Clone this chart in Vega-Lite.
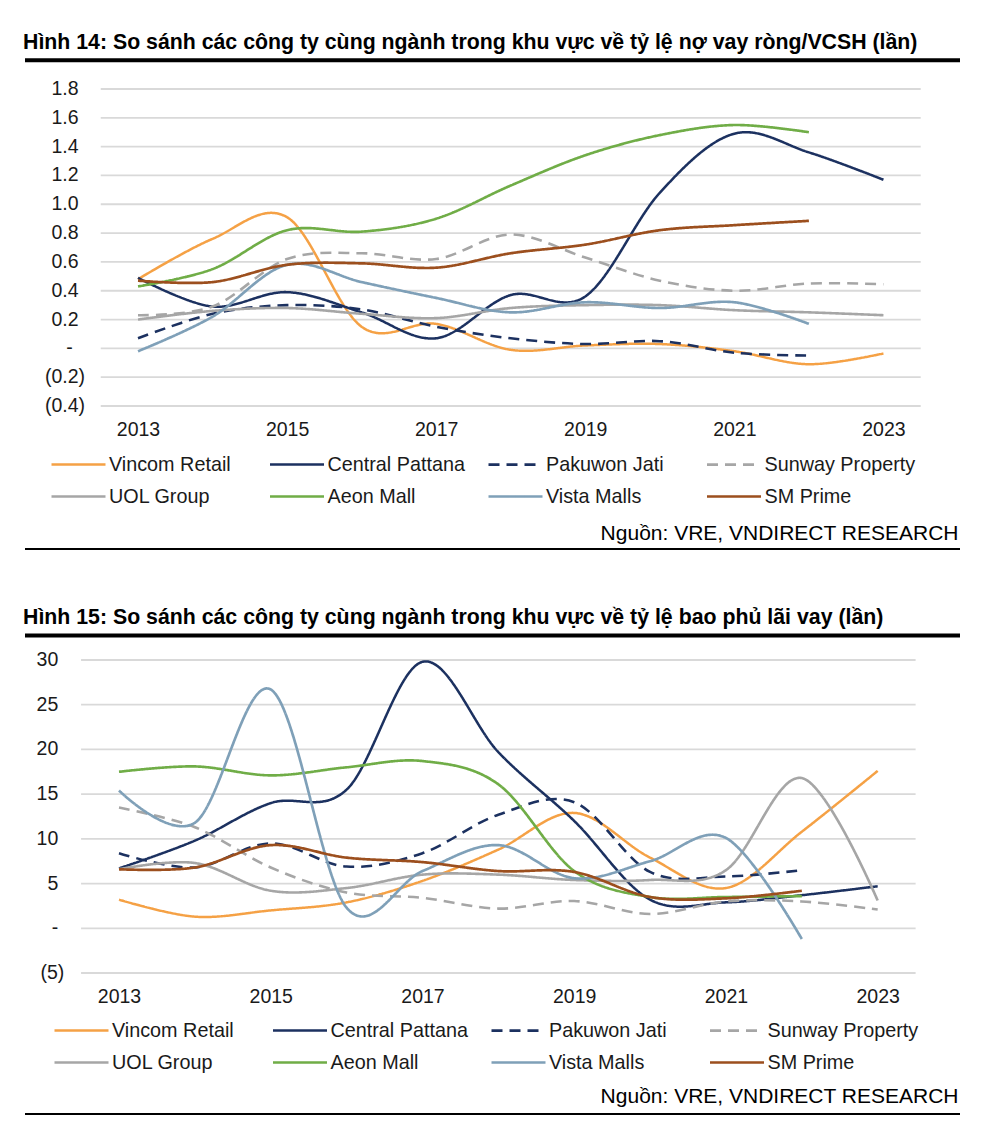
{
  "$schema": "https://vega.github.io/schema/vega-lite/v6.json",
  "padding": {"left": 23, "top": 31, "right": 0, "bottom": 0},
  "background": "white",
  "spacing": 57,
  "resolve": {
    "scale": {"color": "independent", "strokeDash": "independent", "strokeWidth": "independent"},
    "legend": {"color": "independent", "strokeDash": "independent"}
  },
  "config": {
    "view": {"stroke": null},
    "font": "Liberation Sans",
    "axis": {"labelFont": "Liberation Sans", "labelFontSize": 19.5, "labelColor": "#1a1a1a", "domain": false, "ticks": false, "tickSize": 0, "grid": false, "titleFont": "Liberation Sans"},
    "text": {"font": "Liberation Sans", "fontSize": 19.5, "color": "#1a1a1a", "align": "right", "baseline": "middle"},
    "legend": {"labelFont": "Liberation Sans", "labelFontSize": 19.8, "labelColor": "#1a1a1a", "symbolType": "stroke", "symbolSize": 2916, "symbolStrokeWidth": 3, "labelOffset": 2, "columns": 4, "direction": "horizontal", "gridAlign": "all", "columnPadding": 4.5, "rowPadding": 12, "padding": 0, "labelLimit": 300},
    "title": {"font": "Liberation Sans", "fontSize": 21.3, "fontWeight": "bold", "anchor": "start", "color": "#000000", "offset": 5}
  },
  "datasets": {
    "d1": [
      {"s": "Vincom Retail", "year": 2013, "v": 0.48}, {"s": "Vincom Retail", "year": 2014, "v": 0.76}, {"s": "Vincom Retail", "year": 2015, "v": 0.91}, {"s": "Vincom Retail", "year": 2016, "v": 0.15}, {"s": "Vincom Retail", "year": 2017, "v": 0.17}, {"s": "Vincom Retail", "year": 2018, "v": -0.01}, {"s": "Vincom Retail", "year": 2019, "v": 0.02}, {"s": "Vincom Retail", "year": 2020, "v": 0.03}, {"s": "Vincom Retail", "year": 2021, "v": -0.02}, {"s": "Vincom Retail", "year": 2022, "v": -0.11}, {"s": "Vincom Retail", "year": 2023, "v": -0.035},
      {"s": "Central Pattana", "year": 2013, "v": 0.49}, {"s": "Central Pattana", "year": 2014, "v": 0.29}, {"s": "Central Pattana", "year": 2015, "v": 0.39}, {"s": "Central Pattana", "year": 2016, "v": 0.25}, {"s": "Central Pattana", "year": 2017, "v": 0.07}, {"s": "Central Pattana", "year": 2018, "v": 0.37}, {"s": "Central Pattana", "year": 2019, "v": 0.36}, {"s": "Central Pattana", "year": 2020, "v": 1.08}, {"s": "Central Pattana", "year": 2021, "v": 1.49}, {"s": "Central Pattana", "year": 2022, "v": 1.36}, {"s": "Central Pattana", "year": 2023, "v": 1.17},
      {"s": "Pakuwon Jati", "year": 2013, "v": 0.07}, {"s": "Pakuwon Jati", "year": 2014, "v": 0.24}, {"s": "Pakuwon Jati", "year": 2015, "v": 0.3}, {"s": "Pakuwon Jati", "year": 2016, "v": 0.27}, {"s": "Pakuwon Jati", "year": 2017, "v": 0.15}, {"s": "Pakuwon Jati", "year": 2018, "v": 0.07}, {"s": "Pakuwon Jati", "year": 2019, "v": 0.03}, {"s": "Pakuwon Jati", "year": 2020, "v": 0.05}, {"s": "Pakuwon Jati", "year": 2021, "v": -0.03}, {"s": "Pakuwon Jati", "year": 2022, "v": -0.05},
      {"s": "Sunway Property", "year": 2013, "v": 0.23}, {"s": "Sunway Property", "year": 2014, "v": 0.29}, {"s": "Sunway Property", "year": 2015, "v": 0.62}, {"s": "Sunway Property", "year": 2016, "v": 0.66}, {"s": "Sunway Property", "year": 2017, "v": 0.62}, {"s": "Sunway Property", "year": 2018, "v": 0.79}, {"s": "Sunway Property", "year": 2019, "v": 0.63}, {"s": "Sunway Property", "year": 2020, "v": 0.47}, {"s": "Sunway Property", "year": 2021, "v": 0.4}, {"s": "Sunway Property", "year": 2022, "v": 0.45}, {"s": "Sunway Property", "year": 2023, "v": 0.445},
      {"s": "UOL Group", "year": 2013, "v": 0.2}, {"s": "UOL Group", "year": 2014, "v": 0.26}, {"s": "UOL Group", "year": 2015, "v": 0.28}, {"s": "UOL Group", "year": 2016, "v": 0.24}, {"s": "UOL Group", "year": 2017, "v": 0.21}, {"s": "UOL Group", "year": 2018, "v": 0.28}, {"s": "UOL Group", "year": 2019, "v": 0.3}, {"s": "UOL Group", "year": 2020, "v": 0.3}, {"s": "UOL Group", "year": 2021, "v": 0.265}, {"s": "UOL Group", "year": 2022, "v": 0.25}, {"s": "UOL Group", "year": 2023, "v": 0.23},
      {"s": "Aeon Mall", "year": 2013, "v": 0.43}, {"s": "Aeon Mall", "year": 2014, "v": 0.55}, {"s": "Aeon Mall", "year": 2015, "v": 0.82}, {"s": "Aeon Mall", "year": 2016, "v": 0.81}, {"s": "Aeon Mall", "year": 2017, "v": 0.9}, {"s": "Aeon Mall", "year": 2018, "v": 1.13}, {"s": "Aeon Mall", "year": 2019, "v": 1.34}, {"s": "Aeon Mall", "year": 2020, "v": 1.48}, {"s": "Aeon Mall", "year": 2021, "v": 1.55}, {"s": "Aeon Mall", "year": 2022, "v": 1.5},
      {"s": "Vista Malls", "year": 2013, "v": -0.02}, {"s": "Vista Malls", "year": 2014, "v": 0.22}, {"s": "Vista Malls", "year": 2015, "v": 0.58}, {"s": "Vista Malls", "year": 2016, "v": 0.46}, {"s": "Vista Malls", "year": 2017, "v": 0.35}, {"s": "Vista Malls", "year": 2018, "v": 0.25}, {"s": "Vista Malls", "year": 2019, "v": 0.32}, {"s": "Vista Malls", "year": 2020, "v": 0.28}, {"s": "Vista Malls", "year": 2021, "v": 0.32}, {"s": "Vista Malls", "year": 2022, "v": 0.17},
      {"s": "SM Prime", "year": 2013, "v": 0.47}, {"s": "SM Prime", "year": 2014, "v": 0.46}, {"s": "SM Prime", "year": 2015, "v": 0.58}, {"s": "SM Prime", "year": 2016, "v": 0.59}, {"s": "SM Prime", "year": 2017, "v": 0.56}, {"s": "SM Prime", "year": 2018, "v": 0.66}, {"s": "SM Prime", "year": 2019, "v": 0.72}, {"s": "SM Prime", "year": 2020, "v": 0.82}, {"s": "SM Prime", "year": 2021, "v": 0.855}, {"s": "SM Prime", "year": 2022, "v": 0.885}
    ],
    "d2": [
      {"s": "Vincom Retail", "year": 2013, "v": 3.2}, {"s": "Vincom Retail", "year": 2014, "v": 1.3}, {"s": "Vincom Retail", "year": 2015, "v": 2.0}, {"s": "Vincom Retail", "year": 2016, "v": 2.9}, {"s": "Vincom Retail", "year": 2017, "v": 5.3}, {"s": "Vincom Retail", "year": 2018, "v": 8.8}, {"s": "Vincom Retail", "year": 2019, "v": 12.9}, {"s": "Vincom Retail", "year": 2020, "v": 7.9}, {"s": "Vincom Retail", "year": 2021, "v": 4.5}, {"s": "Vincom Retail", "year": 2022, "v": 10.8}, {"s": "Vincom Retail", "year": 2023, "v": 17.6},
      {"s": "Central Pattana", "year": 2013, "v": 6.7}, {"s": "Central Pattana", "year": 2014, "v": 9.8}, {"s": "Central Pattana", "year": 2015, "v": 14.0}, {"s": "Central Pattana", "year": 2016, "v": 15.5}, {"s": "Central Pattana", "year": 2017, "v": 29.8}, {"s": "Central Pattana", "year": 2018, "v": 19.7}, {"s": "Central Pattana", "year": 2019, "v": 12.0}, {"s": "Central Pattana", "year": 2020, "v": 3.2}, {"s": "Central Pattana", "year": 2021, "v": 2.9}, {"s": "Central Pattana", "year": 2022, "v": 3.7}, {"s": "Central Pattana", "year": 2023, "v": 4.7},
      {"s": "Pakuwon Jati", "year": 2013, "v": 8.4}, {"s": "Pakuwon Jati", "year": 2014, "v": 6.8}, {"s": "Pakuwon Jati", "year": 2015, "v": 9.5}, {"s": "Pakuwon Jati", "year": 2016, "v": 6.9}, {"s": "Pakuwon Jati", "year": 2017, "v": 8.4}, {"s": "Pakuwon Jati", "year": 2018, "v": 12.7}, {"s": "Pakuwon Jati", "year": 2019, "v": 14.1}, {"s": "Pakuwon Jati", "year": 2020, "v": 6.3}, {"s": "Pakuwon Jati", "year": 2021, "v": 5.8}, {"s": "Pakuwon Jati", "year": 2022, "v": 6.5},
      {"s": "Sunway Property", "year": 2013, "v": 13.5}, {"s": "Sunway Property", "year": 2014, "v": 11.3}, {"s": "Sunway Property", "year": 2015, "v": 6.8}, {"s": "Sunway Property", "year": 2016, "v": 4.0}, {"s": "Sunway Property", "year": 2017, "v": 3.4}, {"s": "Sunway Property", "year": 2018, "v": 2.2}, {"s": "Sunway Property", "year": 2019, "v": 3.05}, {"s": "Sunway Property", "year": 2020, "v": 1.6}, {"s": "Sunway Property", "year": 2021, "v": 3.0}, {"s": "Sunway Property", "year": 2022, "v": 3.0}, {"s": "Sunway Property", "year": 2023, "v": 2.1},
      {"s": "UOL Group", "year": 2013, "v": 6.6}, {"s": "UOL Group", "year": 2014, "v": 7.3}, {"s": "UOL Group", "year": 2015, "v": 4.2}, {"s": "UOL Group", "year": 2016, "v": 4.5}, {"s": "UOL Group", "year": 2017, "v": 6.0}, {"s": "UOL Group", "year": 2018, "v": 6.0}, {"s": "UOL Group", "year": 2019, "v": 5.4}, {"s": "UOL Group", "year": 2020, "v": 5.4}, {"s": "UOL Group", "year": 2021, "v": 6.5}, {"s": "UOL Group", "year": 2022, "v": 16.8}, {"s": "UOL Group", "year": 2023, "v": 3.1},
      {"s": "Aeon Mall", "year": 2013, "v": 17.5}, {"s": "Aeon Mall", "year": 2014, "v": 18.1}, {"s": "Aeon Mall", "year": 2015, "v": 17.1}, {"s": "Aeon Mall", "year": 2016, "v": 18.0}, {"s": "Aeon Mall", "year": 2017, "v": 18.7}, {"s": "Aeon Mall", "year": 2018, "v": 16.1}, {"s": "Aeon Mall", "year": 2019, "v": 6.4}, {"s": "Aeon Mall", "year": 2020, "v": 3.5}, {"s": "Aeon Mall", "year": 2021, "v": 3.5}, {"s": "Aeon Mall", "year": 2022, "v": 3.6},
      {"s": "Vista Malls", "year": 2013, "v": 15.4}, {"s": "Vista Malls", "year": 2014, "v": 11.8}, {"s": "Vista Malls", "year": 2015, "v": 26.7}, {"s": "Vista Malls", "year": 2016, "v": 2.3}, {"s": "Vista Malls", "year": 2017, "v": 6.4}, {"s": "Vista Malls", "year": 2018, "v": 9.3}, {"s": "Vista Malls", "year": 2019, "v": 5.6}, {"s": "Vista Malls", "year": 2020, "v": 7.5}, {"s": "Vista Malls", "year": 2021, "v": 10.1}, {"s": "Vista Malls", "year": 2022, "v": -1.2},
      {"s": "SM Prime", "year": 2013, "v": 6.6}, {"s": "SM Prime", "year": 2014, "v": 6.8}, {"s": "SM Prime", "year": 2015, "v": 9.3}, {"s": "SM Prime", "year": 2016, "v": 7.9}, {"s": "SM Prime", "year": 2017, "v": 7.4}, {"s": "SM Prime", "year": 2018, "v": 6.4}, {"s": "SM Prime", "year": 2019, "v": 6.3}, {"s": "SM Prime", "year": 2020, "v": 3.5}, {"s": "SM Prime", "year": 2021, "v": 3.35}, {"s": "SM Prime", "year": 2022, "v": 4.2}
    ],
    "g1": [{"g": -0.4}, {"g": -0.2}, {"g": 0}, {"g": 0.2}, {"g": 0.4}, {"g": 0.6}, {"g": 0.8}, {"g": 1.0}, {"g": 1.2}, {"g": 1.4}, {"g": 1.6}, {"g": 1.8}],
    "g2": [{"g": -5}, {"g": 0}, {"g": 5}, {"g": 10}, {"g": 15}, {"g": 20}, {"g": 25}, {"g": 30}],
    "l1pos": [{"g": 0.2, "lab": "0.2"}, {"g": 0.4, "lab": "0.4"}, {"g": 0.6, "lab": "0.6"}, {"g": 0.8, "lab": "0.8"}, {"g": 1.0, "lab": "1.0"}, {"g": 1.2, "lab": "1.2"}, {"g": 1.4, "lab": "1.4"}, {"g": 1.6, "lab": "1.6"}, {"g": 1.8, "lab": "1.8"}],
    "l1neg": [{"g": -0.4, "lab": "(0.4)"}, {"g": -0.2, "lab": "(0.2)"}],
    "l1zero": [{"g": 0, "lab": "-"}],
    "l2pos": [{"g": 0, "lab": "-"}, {"g": 5, "lab": "5"}, {"g": 10, "lab": "10"}, {"g": 15, "lab": "15"}, {"g": 20, "lab": "20"}, {"g": 25, "lab": "25"}, {"g": 30, "lab": "30"}],
    "l2neg": [{"g": -5, "lab": "(5)"}]
  },
  "vconcat": [
    {
      "width": 935,
      "height": 317,
      "title": {"text": "Hình 14: So sánh các công ty cùng ngành trong khu vực về tỷ lệ nợ vay ròng/VCSH (lần)"},
      "layer": [
        {
          "data": {"name": "g1"},
          "mark": {"type": "rule", "stroke": "#d9d9d9", "strokeWidth": 1.8},
          "encoding": {
            "y": {"field": "g", "type": "quantitative", "axis": null, "scale": {"domain": [-0.4, 1.8], "nice": false, "zero": false}},
            "x": {"datum": 2012.5, "scale": {"domain": [2011.484, 2024.027], "nice": false, "zero": false}},
            "x2": {"datum": 2023.5}
          }
        },
        {
          "data": {"name": "l1pos"},
          "mark": {"type": "text"},
          "encoding": {"y": {"field": "g", "type": "quantitative", "axis": null}, "x": {"datum": 2012.202}, "text": {"field": "lab"}}
        },
        {
          "data": {"name": "l1neg"},
          "mark": {"type": "text"},
          "encoding": {"y": {"field": "g", "type": "quantitative", "axis": null}, "x": {"datum": 2012.289}, "text": {"field": "lab"}}
        },
        {
          "data": {"name": "l1zero"},
          "mark": {"type": "text"},
          "encoding": {"y": {"field": "g", "type": "quantitative", "axis": null}, "x": {"datum": 2012.124}, "text": {"field": "lab"}}
        },
        {
          "data": {"name": "d1"},
          "mark": {"type": "line", "interpolate": "cardinal"},
          "encoding": {
            "x": {"field": "year", "type": "quantitative",
              "axis": {"values": [2013, 2015, 2017, 2019, 2021, 2023], "format": "d", "labelPadding": 14.6, "title": "Nguồn: VRE, VNDIRECT RESEARCH", "titleX": 933, "titleY": 133, "titleAlign": "right", "titleBaseline": "alphabetic", "titleFontSize": 21, "titleFontWeight": "normal", "titleColor": "#000000"}},
            "y": {"field": "v", "type": "quantitative", "axis": null},
            "color": {"field": "s", "type": "nominal",
              "scale": {"domain": ["Vincom Retail", "Central Pattana", "Pakuwon Jati", "Sunway Property", "UOL Group", "Aeon Mall", "Vista Malls", "SM Prime"], "range": ["#F5A145", "#1C3160", "#1C3160", "#A6A6A6", "#A6A6A6", "#70AD47", "#7FA0B8", "#9C4F1E"]},
              "legend": {"title": null, "orient": "none", "legendX": 25, "legendY": 365.5,
                "encode": {"symbols": {"update": {"y": {"value": 10}}}, "labels": {"update": {"y": {"value": 10}}}}}},
            "strokeDash": {"field": "s", "type": "nominal",
              "scale": {"domain": ["Vincom Retail", "Central Pattana", "Pakuwon Jati", "Sunway Property", "UOL Group", "Aeon Mall", "Vista Malls", "SM Prime"], "range": [[1, 0], [1, 0], [11, 7], [11, 7], [1, 0], [1, 0], [1, 0], [1, 0]]},
              "legend": {"title": null, "orient": "none", "legendX": 25, "legendY": 365.5,
                "encode": {"symbols": {"update": {"y": {"value": 10}}}, "labels": {"update": {"y": {"value": 10}}}}}},
            "strokeWidth": {"field": "s", "type": "ordinal",
              "scale": {"domain": ["Vincom Retail", "Central Pattana", "Pakuwon Jati", "Sunway Property", "UOL Group", "Aeon Mall", "Vista Malls", "SM Prime"], "range": [2.5, 2.7, 3, 3, 2.7, 3.5, 3.5, 3.5]},
              "legend": null}
          }
        },
        {
          "data": {"values": [{}]},
          "mark": {"type": "rule", "color": "#000000", "strokeWidth": 4},
          "encoding": {"x": {"datum": 2011.484}, "x2": {"datum": 2024.027}, "y": {"datum": 2.0}}
        },
        {
          "data": {"values": [{}]},
          "mark": {"type": "rule", "color": "#000000", "strokeWidth": 2},
          "encoding": {"x": {"datum": 2011.484}, "x2": {"datum": 2024.027}, "y": {"datum": -1.392}}
        }
      ]
    },
    {
      "width": 935,
      "height": 313,
      "title": {"text": "Hình 15: So sánh các công ty cùng ngành trong khu vực về tỷ lệ bao phủ lãi vay (lần)"},
      "layer": [
        {
          "data": {"name": "g2"},
          "mark": {"type": "rule", "stroke": "#d9d9d9", "strokeWidth": 1.8},
          "encoding": {
            "y": {"field": "g", "type": "quantitative", "axis": null, "scale": {"domain": [-5, 30], "nice": false, "zero": false}},
            "x": {"datum": 2012.5, "scale": {"domain": [2011.761, 2024.085], "nice": false, "zero": false}},
            "x2": {"datum": 2023.5}
          }
        },
        {
          "data": {"name": "l2pos"},
          "mark": {"type": "text"},
          "encoding": {"y": {"field": "g", "type": "quantitative", "axis": null}, "x": {"datum": 2012.2}, "text": {"field": "lab"}}
        },
        {
          "data": {"name": "l2neg"},
          "mark": {"type": "text"},
          "encoding": {"y": {"field": "g", "type": "quantitative", "axis": null}, "x": {"datum": 2012.279}, "text": {"field": "lab"}}
        },
        {
          "data": {"name": "d2"},
          "mark": {"type": "line", "interpolate": "cardinal"},
          "encoding": {
            "x": {"field": "year", "type": "quantitative",
              "axis": {"values": [2013, 2015, 2017, 2019, 2021, 2023], "format": "d", "labelPadding": 14.6, "title": "Nguồn: VRE, VNDIRECT RESEARCH", "titleX": 933, "titleY": 129, "titleAlign": "right", "titleBaseline": "alphabetic", "titleFontSize": 21, "titleFontWeight": "normal", "titleColor": "#000000"}},
            "y": {"field": "v", "type": "quantitative", "axis": null},
            "color": {"field": "s", "type": "nominal",
              "scale": {"domain": ["Vincom Retail", "Central Pattana", "Pakuwon Jati", "Sunway Property", "UOL Group", "Aeon Mall", "Vista Malls", "SM Prime"], "range": ["#F5A145", "#1C3160", "#1C3160", "#A6A6A6", "#A6A6A6", "#70AD47", "#7FA0B8", "#9C4F1E"]},
              "legend": {"title": null, "orient": "none", "legendX": 28, "legendY": 360.5,
                "encode": {"symbols": {"update": {"y": {"value": 10}}}, "labels": {"update": {"y": {"value": 10}}}}}},
            "strokeDash": {"field": "s", "type": "nominal",
              "scale": {"domain": ["Vincom Retail", "Central Pattana", "Pakuwon Jati", "Sunway Property", "UOL Group", "Aeon Mall", "Vista Malls", "SM Prime"], "range": [[1, 0], [1, 0], [11, 7], [11, 7], [1, 0], [1, 0], [1, 0], [1, 0]]},
              "legend": {"title": null, "orient": "none", "legendX": 28, "legendY": 360.5,
                "encode": {"symbols": {"update": {"y": {"value": 10}}}, "labels": {"update": {"y": {"value": 10}}}}}},
            "strokeWidth": {"field": "s", "type": "ordinal",
              "scale": {"domain": ["Vincom Retail", "Central Pattana", "Pakuwon Jati", "Sunway Property", "UOL Group", "Aeon Mall", "Vista Malls", "SM Prime"], "range": [2.5, 2.7, 3, 3, 2.7, 3.5, 3.5, 3.5]},
              "legend": null}
          }
        },
        {
          "data": {"values": [{}]},
          "mark": {"type": "rule", "color": "#000000", "strokeWidth": 4},
          "encoding": {"x": {"datum": 2011.761}, "x2": {"datum": 2024.085}, "y": {"datum": 32.74}}
        },
        {
          "data": {"values": [{}]},
          "mark": {"type": "rule", "color": "#000000", "strokeWidth": 2},
          "encoding": {"x": {"datum": 2011.761}, "x2": {"datum": 2024.085}, "y": {"datum": -20.77}}
        }
      ]
    }
  ]
}
